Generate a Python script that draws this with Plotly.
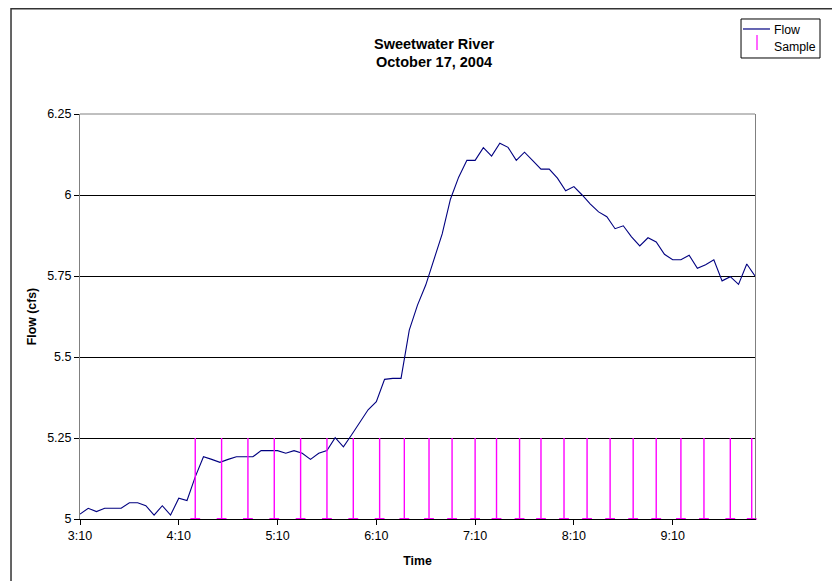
import plotly.graph_objects as go
import pandas as pd

# ---------------- data ----------------
day = "2004-10-17"
flow_start = "03:10"
flow_step = "5min"
flow_cfs = [
    5.015, 5.033, 5.023, 5.033, 5.033, 5.033, 5.050, 5.050, 5.041, 5.012,
    5.041, 5.012, 5.064, 5.057, 5.130, 5.192, 5.184, 5.175, 5.184, 5.192,
    5.192, 5.192, 5.211, 5.211, 5.211, 5.203, 5.211, 5.203, 5.184, 5.203,
    5.211, 5.251, 5.223, 5.260, 5.300, 5.337, 5.362, 5.431, 5.434, 5.434,
    5.583, 5.660, 5.722, 5.800, 5.880, 5.987, 6.055, 6.107, 6.107, 6.146,
    6.120, 6.160, 6.147, 6.107, 6.132, 6.106, 6.080, 6.080, 6.052, 6.013,
    6.026, 6.000, 5.972, 5.948, 5.933, 5.896, 5.905, 5.871, 5.843, 5.868,
    5.855, 5.817, 5.800, 5.800, 5.814, 5.774, 5.785, 5.800, 5.735, 5.748,
    5.724, 5.787, 5.750,
]
sample_times = [
    "04:20", "04:36", "04:52", "05:08", "05:24", "05:40", "05:56", "06:12",
    "06:27", "06:42", "06:56", "07:10", "07:23", "07:37", "07:50", "08:04",
    "08:18", "08:32", "08:46", "09:00", "09:15", "09:29", "09:45", "09:58",
]
sample_low = 5.0
sample_high = 5.25

x_tick_times = ["03:10", "04:10", "05:10", "06:10", "07:10", "08:10", "09:10"]
x_tick_labels = ["3:10", "4:10", "5:10", "6:10", "7:10", "8:10", "9:10"]
x_range = ["03:10", "10:00"]
y_ticks = [5, 5.25, 5.5, 5.75, 6, 6.25]
y_tick_labels = ["5", "5.25", "5.5", "5.75", "6", "6.25"]
y_range = [5, 6.25]
legend_names = ["Flow", "Sample"]
title_lines = ["Sweetwater River", "October 17, 2004"]

# ---------------- build ----------------
flow_x = pd.date_range(f"{day} {flow_start}", periods=len(flow_cfs), freq=flow_step)
sample_x = [f"{day} {t}" for t in sample_times]

FONT = "Liberation Sans, Arial, sans-serif"
MAGENTA = "#FF00FF"
NAVY = "#000080"
TXT = 12.3

fig = go.Figure()

fig.add_trace(go.Scatter(
    x=flow_x, y=flow_cfs, mode="lines", name=legend_names[0],
    line=dict(color=NAVY, width=1.1),
))

fig.add_trace(go.Scatter(
    x=sample_x, y=[sample_low] * len(sample_x), mode="markers", name=legend_names[1],
    cliponaxis=False,
    marker=dict(symbol="line-ew", size=7, color=MAGENTA,
                line=dict(color=MAGENTA, width=2)),
    error_y=dict(type="data", symmetric=False,
                 array=[sample_high - sample_low] * len(sample_x),
                 arrayminus=[0] * len(sample_x),
                 color=MAGENTA, thickness=1.4, width=0),
))

# legend drawn as a small boxed key (paper coordinates)
lg_shapes = [
    dict(type="rect", xref="paper", yref="paper",
         x0=0.9793, x1=1.0963, y0=1.1383, y1=1.2346,
         line=dict(color="black", width=1), fillcolor="white", layer="above"),
    dict(type="line", xref="paper", yref="paper",
         x0=0.9822, x1=1.0222, y0=1.2099, y1=1.2099,
         line=dict(color=NAVY, width=1.2)),
    dict(type="line", xref="paper", yref="paper",
         x0=1.0030, x1=1.0030, y0=1.1580, y1=1.1951,
         line=dict(color="#FF66FF", width=2)),
]
lg_annots = [
    dict(text=legend_names[0], xref="paper", yref="paper", x=1.0252, y=1.2085,
         xanchor="left", yanchor="middle", showarrow=False,
         font=dict(family=FONT, size=TXT, color="black")),
    dict(text=legend_names[1], xref="paper", yref="paper", x=1.0252, y=1.1650,
         xanchor="left", yanchor="middle", showarrow=False,
         font=dict(family=FONT, size=TXT, color="black")),
]

# page body has an 8px default margin, so the figure is offset by 8px
fig.update_layout(
    width=832, height=573,
    margin=dict(l=72, r=85, t=106, b=62),
    paper_bgcolor="white", plot_bgcolor="white",
    font=dict(family=FONT, size=TXT, color="black"),
    showlegend=False,
    xaxis=dict(
        type="date",
        range=[f"{day} {x_range[0]}", f"{day} {x_range[1]}"],
        tickvals=[f"{day} {t}" for t in x_tick_times],
        ticktext=x_tick_labels,
        ticks="outside", ticklen=5, tickcolor="black",
        showgrid=False, showline=True, linecolor="black", linewidth=1,
        zeroline=False,
        tickfont=dict(family=FONT, size=12.5, color="black"),
        title=dict(text="<b>Time</b>", font=dict(family=FONT, size=TXT, color="black"),
                   standoff=14),
    ),
    yaxis=dict(
        range=y_range,
        tickvals=y_ticks, ticktext=y_tick_labels,
        ticks="outside", ticklen=5, tickcolor="black",
        showgrid=True, gridcolor="black", gridwidth=1,
        showline=True, linecolor="#808080", linewidth=1, mirror=True,
        zeroline=False,
        tickfont=dict(family=FONT, size=12.5, color="black"),
        title=dict(text="<b>Flow (cfs)</b>", font=dict(family=FONT, size=TXT, color="black"),
                   standoff=7),
    ),
    shapes=[
        # top edge of plot area
        dict(type="line", xref="paper", yref="paper", x0=0, x1=1, y0=1, y1=1,
             line=dict(color="#808080", width=1)),
        # outer chart frame (extends past the canvas on the right and bottom)
        dict(type="rect", xref="paper", yref="paper",
             x0=-0.1022, x1=1.3, y0=-0.3, y1=1.2599,
             line=dict(color="#333333", width=1.5)),
    ] + lg_shapes,
    annotations=[
        dict(text=f"<b>{title_lines[0]}</b>", xref="paper", yref="paper",
             x=0.5244, y=1.174, xanchor="center", yanchor="middle", showarrow=False,
             font=dict(family=FONT, size=14.5, color="black")),
        dict(text=f"<b>{title_lines[1]}</b>", xref="paper", yref="paper",
             x=0.5244, y=1.128, xanchor="center", yanchor="middle", showarrow=False,
             font=dict(family=FONT, size=14.5, color="black")),
    ] + lg_annots,
)

fig.write_html("out.html")
